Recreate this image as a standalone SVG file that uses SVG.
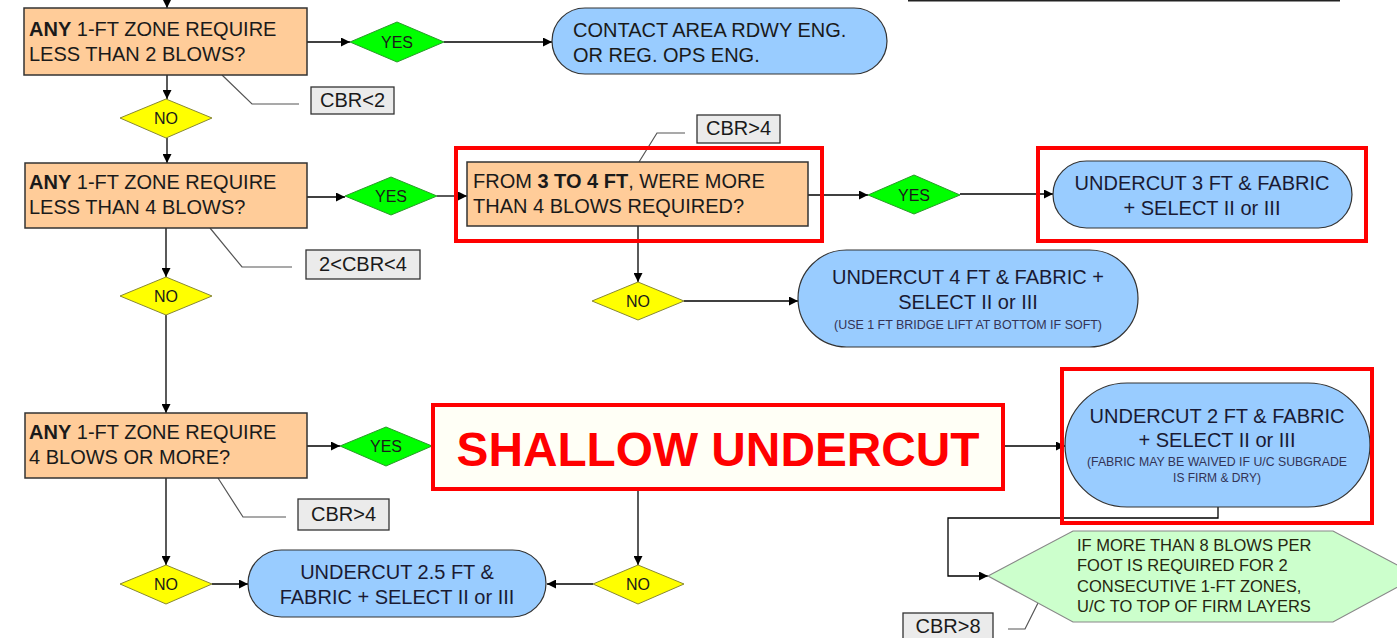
<svg xmlns="http://www.w3.org/2000/svg" width="1397" height="638" viewBox="0 0 1397 638">
  <defs>
    <marker id="arr" viewBox="0 0 10 10" refX="10" refY="5" markerWidth="9" markerHeight="9" markerUnits="userSpaceOnUse" orient="auto">
      <path d="M0,0 L10,5 L0,10 z" fill="#000"/>
    </marker>
    <style>
      text { font-family: "Liberation Sans", Arial, sans-serif; }
      .q { fill: #ffcc99; stroke: #333; stroke-width: 1.5; }
      .yes { fill: #00ff00; stroke: #2a9a2a; stroke-width: 1; }
      .no { fill: #ffff00; stroke: #888833; stroke-width: 1; }
      .act { fill: #99ccff; stroke: #333; stroke-width: 1.2; }
      .tag { fill: #ebebeb; stroke: #333; stroke-width: 1.3; }
      .hex { fill: #ccffcc; stroke: #888; stroke-width: 1.2; }
      .hl { fill: none; stroke: #ff0000; stroke-width: 4; }
      .t { font-size: 20px; fill: #1a1a1a; }
      .ta { font-size: 20px; fill: #1a1a33; text-anchor: middle; }
      .ts { font-size: 12px; fill: #333355; text-anchor: middle; }
      .td { font-size: 16px; fill: #1a1a1a; text-anchor: middle; }
      .th { font-size: 16.5px; fill: #262610; }
      .tt { font-size: 20px; fill: #1a1a1a; text-anchor: middle; }
      .b { font-weight: bold; }
      .ca { fill: none; stroke: #000; stroke-width: 1.3; marker-end: url(#arr); }
      .lead { fill: none; stroke: #555; stroke-width: 1.2; }
    </style>
  </defs>

  <rect width="1397" height="638" fill="#fff"/>

  <!-- edge of a box above the visible area -->
  <line x1="908" y1="0.6" x2="1340" y2="0.6" stroke="#222" stroke-width="1.8"/>

  <!-- connectors -->
  <g id="connectors">
    <path class="ca" d="M167,0 V8"/>
    <path class="ca" d="M307,42 H350"/>
    <path class="ca" d="M444,42 H552"/>
    <path class="ca" d="M167,75 V99"/>
    <path class="ca" d="M167,138 V163"/>
    <path class="ca" d="M307,197 H345"/>
    <path class="ca" d="M437,196 H467"/>
    <path class="ca" d="M808,195 H868"/>
    <path class="ca" d="M960,194 H1053"/>
    <path class="ca" d="M638,226 V282"/>
    <path class="ca" d="M684,301 H798"/>
    <path class="ca" d="M166,228 V277"/>
    <path class="ca" d="M166,315 V413"/>
    <path class="ca" d="M307,446 H340"/>
    <path class="ca" d="M1003,446 H1065"/>
    <path class="ca" d="M638,489 V565"/>
    <path class="ca" d="M593,584 H547"/>
    <path class="ca" d="M166,478 V565"/>
    <path class="ca" d="M212,584 H248"/>
    <path class="ca" d="M1218,507 V518 H948 V576 H988"/>
    <!-- callout leaders -->
    <path class="lead" d="M222,75 L252,104 H299"/>
    <path class="lead" d="M210,228 L242,267 H292"/>
    <path class="lead" d="M639,162 L657,133 H685"/>
    <path class="lead" d="M218,478 L243,517 H286"/>
    <path class="lead" d="M1038,603 L1025,629 H1008"/>
  </g>

  <!-- question boxes -->
  <g id="q1">
    <rect class="q" x="24" y="8" width="283" height="67"/>
    <text class="t" x="29" y="36"><tspan class="b">ANY</tspan> 1-FT ZONE REQUIRE</text>
    <text class="t" x="29" y="61">LESS THAN 2 BLOWS?</text>
  </g>
  <g id="q2">
    <rect class="q" x="25" y="163" width="282" height="65"/>
    <text class="t" x="29" y="189"><tspan class="b">ANY</tspan> 1-FT ZONE REQUIRE</text>
    <text class="t" x="29" y="214">LESS THAN 4 BLOWS?</text>
  </g>
  <g id="q3">
    <rect class="q" x="467" y="162" width="341" height="64"/>
    <text class="t" x="473" y="188">FROM <tspan class="b">3 TO 4 FT</tspan>, WERE MORE</text>
    <text class="t" x="473" y="213">THAN 4 BLOWS REQUIRED?</text>
  </g>
  <g id="q4">
    <rect class="q" x="25" y="413" width="282" height="65"/>
    <text class="t" x="29" y="439"><tspan class="b">ANY</tspan> 1-FT ZONE REQUIRE</text>
    <text class="t" x="29" y="464">4 BLOWS OR MORE?</text>
  </g>

  <!-- decision diamonds -->
  <g id="yes1"><polygon class="yes" points="350,42 397,22 444,42 397,62"/><text class="td" x="397" y="48">YES</text></g>
  <g id="yes2"><polygon class="yes" points="345,196 391,177 437,196 391,215"/><text class="td" x="391" y="202">YES</text></g>
  <g id="yes3"><polygon class="yes" points="868,195 914,175 960,195 914,214"/><text class="td" x="914" y="201">YES</text></g>
  <g id="yes4"><polygon class="yes" points="340,446 386,427 432,446 386,466"/><text class="td" x="386" y="452">YES</text></g>
  <g id="no1"><polygon class="no" points="120,118 166,99 212,118 166,138"/><text class="td" x="166" y="124">NO</text></g>
  <g id="no2"><polygon class="no" points="120,296 166,277 212,296 166,315"/><text class="td" x="166" y="302">NO</text></g>
  <g id="no3"><polygon class="no" points="592,301 638,282 684,301 638,320"/><text class="td" x="638" y="307">NO</text></g>
  <g id="no4"><polygon class="no" points="120,584 166,565 212,584 166,604"/><text class="td" x="166" y="590">NO</text></g>
  <g id="no5"><polygon class="no" points="593,584 638,565 684,584 638,604"/><text class="td" x="638" y="590">NO</text></g>

  <!-- actions -->
  <g id="contact">
    <rect class="act" x="552" y="8" width="335" height="66" rx="33" ry="33"/>
    <text class="t" x="573" y="37" fill="#1a1a33">CONTACT AREA RDWY ENG.</text>
    <text class="t" x="573" y="62" fill="#1a1a33">OR REG. OPS ENG.</text>
  </g>
  <g id="uc3">
    <rect class="act" x="1053" y="161" width="299" height="67" rx="33.5" ry="33.5"/>
    <text class="ta" x="1202" y="190">UNDERCUT 3 FT &amp; FABRIC</text>
    <text class="ta" x="1202" y="215">+ SELECT II or III</text>
  </g>
  <g id="uc4">
    <rect class="act" x="798" y="250" width="340" height="97" rx="48.5" ry="48.5"/>
    <text class="ta" x="968" y="284">UNDERCUT 4 FT &amp; FABRIC +</text>
    <text class="ta" x="968" y="309">SELECT II or III</text>
    <text class="ts" x="968" y="329" textLength="268" lengthAdjust="spacingAndGlyphs">(USE 1 FT BRIDGE LIFT AT BOTTOM IF SOFT)</text>
  </g>
  <g id="uc2">
    <rect class="act" x="1065" y="383" width="305" height="124" rx="62" ry="62"/>
    <text class="ta" x="1217" y="423">UNDERCUT 2 FT &amp; FABRIC</text>
    <text class="ta" x="1217" y="447">+ SELECT II or III</text>
    <text class="ts" x="1217" y="466" textLength="260" lengthAdjust="spacingAndGlyphs">(FABRIC MAY BE WAIVED IF U/C SUBGRADE</text>
    <text class="ts" x="1217" y="482">IS FIRM &amp; DRY)</text>
  </g>
  <g id="uc25">
    <rect class="act" x="248" y="550" width="298" height="67" rx="33.5" ry="33.5"/>
    <text class="ta" x="397" y="579">UNDERCUT 2.5 FT &amp;</text>
    <text class="ta" x="397" y="604">FABRIC + SELECT II or III</text>
  </g>
  <g id="firm">
    <polygon class="hex" points="988,576 1073,531 1333,531 1418,576 1333,622 1073,622"/>
    <text class="th" x="1077" y="551">IF MORE THAN 8 BLOWS PER</text>
    <text class="th" x="1077" y="571">FOOT IS REQUIRED FOR 2</text>
    <text class="th" x="1077" y="592">CONSECUTIVE 1-FT ZONES,</text>
    <text class="th" x="1077" y="612">U/C TO TOP OF FIRM LAYERS</text>
  </g>

  <!-- CBR tags -->
  <g id="cbr2"><rect class="tag" x="311" y="87" width="83" height="27"/><text class="tt" x="352.5" y="107">CBR&lt;2</text></g>
  <g id="cbr24"><rect class="tag" x="306" y="250" width="114" height="29"/><text class="tt" x="363" y="271">2&lt;CBR&lt;4</text></g>
  <g id="cbr4a"><rect class="tag" x="697" y="115" width="83" height="28"/><text class="tt" x="738.5" y="135">CBR&gt;4</text></g>
  <g id="cbr4b"><rect class="tag" x="298" y="499" width="91" height="31"/><text class="tt" x="343.5" y="521">CBR&gt;4</text></g>
  <g id="cbr8"><rect class="tag" x="903" y="613" width="90" height="32"/><text class="tt" x="948" y="633">CBR&gt;8</text></g>

  <!-- red highlight frames -->
  <g id="shallow">
    <rect x="433" y="405" width="570" height="84" fill="#fffff6" stroke="#ff0000" stroke-width="4"/>
    <text x="718" y="466" text-anchor="middle" font-size="48" font-weight="bold" fill="#ff0000" textLength="523" lengthAdjust="spacingAndGlyphs">SHALLOW UNDERCUT</text>
  </g>
  <g id="highlights">
    <rect class="hl" x="456" y="148" width="366" height="93"/>
    <rect class="hl" x="1038" y="148" width="328" height="93"/>
    <rect class="hl" x="1062" y="369" width="310" height="154"/>
  </g>
</svg>
